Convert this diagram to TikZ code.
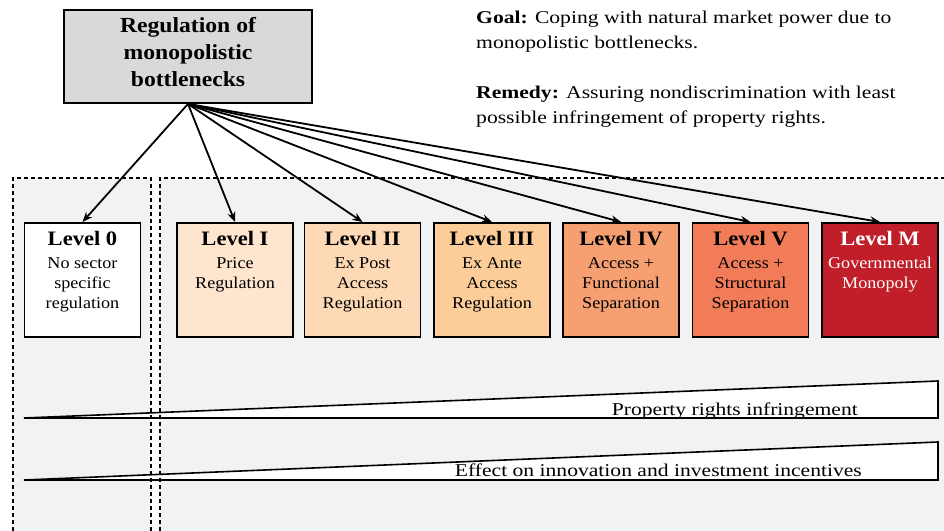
\documentclass[tikz,border=0pt]{standalone}
\usepackage{fontspec}
\setmainfont[FakeStretch=1.1]{Liberation Serif}
\newfontfamily\widefont[FakeStretch=1.2]{Liberation Serif}
\usetikzlibrary{arrows.meta}
\definecolor{panel}{RGB}{241,242,244}
\definecolor{topgray}{RGB}{217,217,217}
\definecolor{cI}{RGB}{253,229,206}
\definecolor{cII}{RGB}{253,217,181}
\definecolor{cIII}{RGB}{252,204,153}
\definecolor{cIV}{RGB}{246,160,114}
\definecolor{cV}{RGB}{243,124,88}
\definecolor{cM}{RGB}{192,30,40}
\newcommand{\lvtitle}[1]{{\fontsize{20.5}{23}\selectfont\bfseries #1}}
\begin{document}
\begin{tikzpicture}[x=1pt,y=-1pt,
  panelbox/.style={draw=black, line width=1.3pt, dash pattern=on 4pt off 3pt},
  lvl/.style={draw=black, line width=1.6pt, minimum width=116pt, minimum height=114pt, anchor=north, inner sep=0pt},
  lvltxt/.style={anchor=north, align=center, inner sep=0pt, font=\fontsize{16.5}{20}\selectfont},
  conn/.style={line width=1.8pt, -{Stealth[length=10pt,width=8pt]}},
  wedge/.style={fill=white, draw=black, line width=1.6pt, line join=miter},
  wlabel/.style={anchor=base east, inner sep=0pt, font=\widefont\fontsize{18}{20}\selectfont}]
\useasboundingbox (0,0) rectangle (944,530);
% panels (fill)
\fill[panel] (13,178) rectangle (151,545);
\fill[panel] (160,178) rectangle (960,545);
% wedges
\draw[wedge] (24,418) -- (938,381) -- (938,418) -- cycle;
\draw[wedge] (24,480) -- (938,442) -- (938,480) -- cycle;
% panels (dashed borders)
\draw[panelbox] (13,545) -- (13,178) -- (151,178) -- (151,545);
\draw[panelbox] (160,545) -- (160,178) -- (960,178);
% top box
\node[draw=black, fill=topgray, line width=1.8pt, minimum width=248pt, minimum height=93pt, inner sep=0pt] (top) at (188,56.5) {};
\node[align=center, inner sep=0pt, anchor=north, font=\fontsize{21.5}{27}\selectfont\bfseries] (topt) at (188,17)
  {Regulation of\\monopolistic\\bottlenecks};
% goal text
\node[anchor=north west, align=left, inner sep=0pt, font=\widefont\fontsize{18}{25}\selectfont] (goal) at (476,11)
  {\textbf{Goal:} Coping with natural market power due to\\monopolistic bottlenecks.\\[25pt]
   \textbf{Remedy:} Assuring nondiscrimination with least\\possible infringement of property rights.};
% level boxes
\node[lvl, fill=white] (L0) at (82.5,222) {};
\node[lvl, fill=cI]   (L1) at (235,222) {};
\node[lvl, fill=cII]  (L2) at (362.5,222) {};
\node[lvl, fill=cIII] (L3) at (492,222) {};
\node[lvl, fill=cIV]  (L4) at (621,222) {};
\node[lvl, fill=cV]   (L5) at (750.5,222) {};
\node[lvl, fill=cM]   (LM) at (880,222) {};
\node[lvltxt] (L0t) at (82.5,231) {\lvtitle{Level 0}\\[3pt]No sector\\specific\\regulation};
\node[lvltxt] (L1t) at (235,231) {\lvtitle{Level I}\\[3pt]Price\\Regulation};
\node[lvltxt] (L2t) at (362.5,231) {\lvtitle{Level II}\\[3pt]Ex Post\\Access\\Regulation};
\node[lvltxt] (L3t) at (492,231) {\lvtitle{Level III}\\[3pt]Ex Ante\\Access\\Regulation};
\node[lvltxt] (L4t) at (621,231) {\lvtitle{Level IV}\\[3pt]Access +\\Functional\\Separation};
\node[lvltxt] (L5t) at (750.5,231) {\lvtitle{Level V}\\[3pt]Access +\\Structural\\Separation};
\node[lvltxt, text=white] (LMt) at (880,231) {\lvtitle{Level M}\\[3pt]Governmental\\Monopoly};
% connectors
\foreach \t in {L0,L1,L2,L3,L4,L5,LM} \draw[conn] (top.south) -- (\t.north);
% wedge labels
\node[wlabel] (pr) at (858,415) {Property rights infringement};
\node[wlabel] (ef) at (862,476) {Effect on innovation and investment incentives};
\end{tikzpicture}
\end{document}
